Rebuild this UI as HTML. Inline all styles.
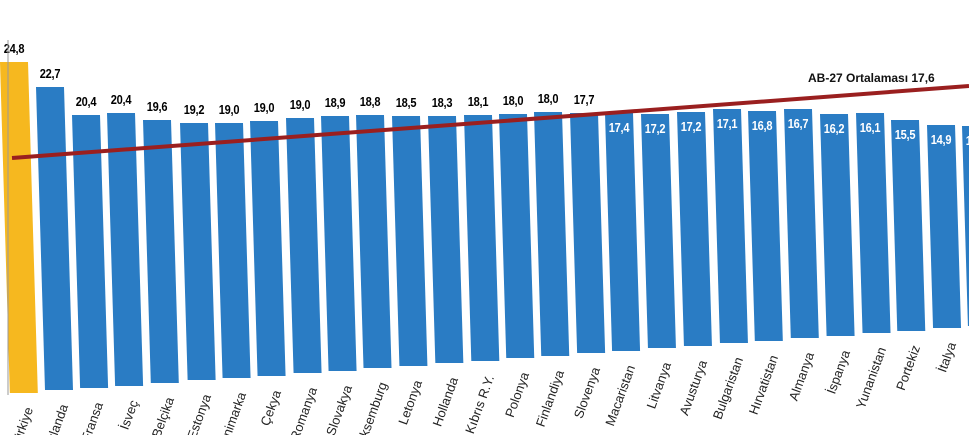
<!DOCTYPE html>
<html style="height:435px;overflow:hidden"><head><meta charset="utf-8"><style>
body{margin:0;width:969px;height:435px;overflow:hidden;background:#fff;position:relative;font-family:"Liberation Sans",sans-serif}
#w{position:absolute;left:0;top:0;width:969px;height:435px;overflow:hidden}
.b{position:absolute;background:#2a7cc4;transform-origin:top left;transform:skewX(1.7deg)}
.v{position:absolute;font-size:13px;font-weight:bold;width:50px;text-align:center;transform:scaleX(.85);letter-spacing:-0.3px}
.c{position:absolute;font-size:13px;color:#222;transform-origin:right top;white-space:nowrap;text-align:right;width:120px}
</style></head><body>
<div id="w">
<div id="r"></div>
<svg style="position:absolute;left:0;top:0" width="969" height="435">
<line x1="8" y1="40" x2="8" y2="395" stroke="#999" stroke-width="1"/>
<line x1="12" y1="158" x2="969" y2="86" stroke="#9a1f1f" stroke-width="4"/>
<text x="808" y="82" font-family="Liberation Sans" font-size="12" font-weight="bold" fill="#111">AB-27 Ortalaması 17,6</text>
</svg>
</div>
<script>
var d=[["Türkiye",24.8,0,62],["İrlanda",22.7,36,87],["Fransa",20.4,72,115],["İsveç",20.4,107,113],["Belçika",19.6,143,120],["Estonya",19.2,180,123],["Danimarka",19.0,215,123],["Çekya",19.0,250,121],["Romanya",19.0,286,118],["Slovakya",18.9,321,116],["Lüksemburg",18.8,356,115],["Letonya",18.5,392,116],["Hollanda",18.3,428,116],["Güney Kıbrıs R.Y.",18.1,464,115],["Polonya",18.0,499,114],["Finlandiya",18.0,534,112],["Slovenya",17.7,570,113],["Macaristan",17.4,605,113],["Litvanya",17.2,641,114],["Avusturya",17.2,677,112],["Bulgaristan",17.1,713,109],["Hırvatistan",16.8,748,111],["Almanya",16.7,784,109],["İspanya",16.2,820,114],["Yunanistan",16.1,856,113],["Portekiz",15.5,891,120],["İtalya",14.9,927,125],["Malta",14.5,962,126]];
var h="";d.forEach(function(e,i){var x=e[2],w=28,bot=393-0.07*x;
h+='<div class="b" style="left:'+x+'px;top:'+e[3]+'px;width:'+w+'px;height:'+(bot-e[3])+'px;'+(i==0?'background:#f6b81f':'')+'"></div>';
var s=e[1].toFixed(1).replace(".",",");
if(i<17)h+='<div class="v" style="left:'+(x-11)+'px;top:'+(e[3]-21)+'px">'+s+'</div>';
else h+='<div class="v" style="left:'+(x-11)+'px;top:'+(e[3]+7)+'px;color:#fff">'+s+'</div>';
var cx=x+12+9*(bot-e[3])/300;
h+='<div class="c" style="left:'+(cx-120)+'px;top:'+(bot+12)+'px;transform:rotate(-70deg)">'+e[0]+'</div>';});
document.getElementById("r").innerHTML=h;
</script>
</body></html>
